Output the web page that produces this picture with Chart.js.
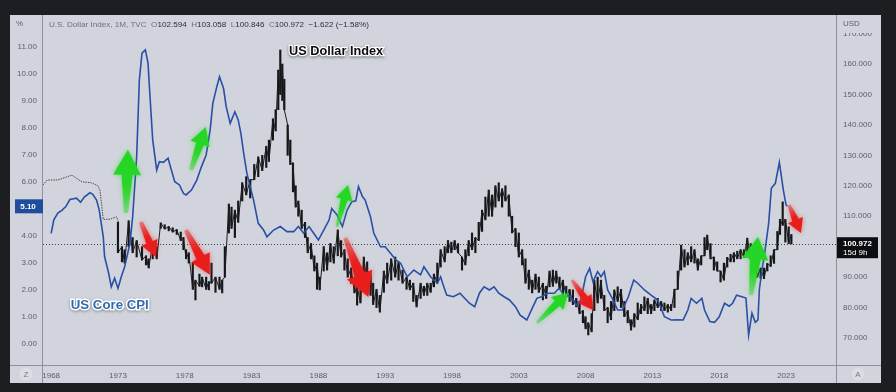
<!DOCTYPE html>
<html>
<head>
<meta charset="utf-8">
<script src="https://cdn.jsdelivr.net/npm/chart.js@4.4.1/dist/chart.umd.min.js"></script>
<style>
  html, body { margin: 0; padding: 0; background: #1d1e22; }
  canvas { display: block; }
</style>
</head>
<body>
<canvas id="chart" width="896" height="392"></canvas>
<script>
// US Core CPI, % (left axis)
const cpiYears = [
  1968.0, 1968.2, 1968.5, 1968.8, 1969.1, 1969.4, 1969.9, 1970.2, 1970.5, 1970.9,
  1971.1, 1971.4, 1971.6, 1971.9, 1972.0, 1972.3, 1972.5, 1972.75, 1973.0, 1973.25,
  1973.5, 1973.9, 1974.1, 1974.4, 1974.6, 1974.8, 1975.05, 1975.25, 1975.4, 1975.6,
  1975.9, 1976.1, 1976.4, 1976.75, 1977.0, 1977.25, 1977.6, 1977.9, 1978.1, 1978.5,
  1978.9, 1979.25, 1979.6, 1979.9, 1980.1, 1980.4, 1980.6, 1980.9, 1981.1, 1981.4,
  1981.75, 1982.0, 1982.2, 1982.4, 1982.65, 1983.15, 1983.5, 1983.9, 1984.15, 1984.65,
  1985.15, 1985.65, 1986.15, 1986.5, 1986.9, 1987.3, 1987.65, 1988.0, 1988.4, 1988.8,
  1989.0, 1989.4, 1989.8, 1990.15, 1990.5, 1990.8, 1991.0, 1991.3, 1991.5, 1991.9,
  1992.15, 1992.65, 1993.0, 1993.4, 1993.8, 1994.15, 1994.65, 1995.15, 1995.65, 1995.9,
  1996.4, 1996.9, 1997.15, 1997.3, 1997.6, 1998.1, 1998.6, 1999.3, 1999.7, 2000.05,
  2000.4, 2000.8, 2001.15, 2001.5, 2001.9, 2002.3, 2002.75, 2003.1, 2003.6, 2004.0,
  2004.35, 2004.7, 2005.15, 2005.65, 2006.0, 2006.4, 2006.9, 2007.3, 2007.65, 2008.0,
  2008.3, 2008.55, 2008.9, 2009.15, 2009.4, 2009.65, 2010.0, 2010.4, 2010.75, 2011.2,
  2011.6, 2011.9, 2012.4, 2012.9, 2013.4, 2013.9, 2014.4, 2014.9, 2015.3, 2015.65,
  2015.9, 2016.3, 2016.7, 2016.9, 2017.3, 2017.65, 2018.0, 2018.4, 2018.75, 2019.0,
  2019.3, 2019.7, 2020.0, 2020.1, 2020.2, 2020.45, 2020.7, 2020.9, 2021.0, 2021.2,
  2021.4, 2021.7, 2021.9, 2022.2, 2022.5, 2022.8, 2023.0, 2023.1
];
const cpiValues = [
  4.10, 4.60, 4.85, 4.95, 5.09, 5.35, 5.40, 5.25, 5.45, 5.60,
  5.55, 5.33, 4.96, 3.97, 3.23, 2.63, 2.12, 2.44, 2.06, 2.49,
  2.86, 3.73, 4.71, 6.94, 9.78, 10.77, 10.89, 10.40, 9.16, 7.56,
  6.44, 6.75, 6.73, 6.88, 6.44, 6.01, 5.89, 5.58, 5.52, 5.70,
  6.07, 6.57, 7.00, 7.93, 8.91, 9.53, 9.90, 9.47, 8.79, 8.17,
  8.60, 8.30, 7.80, 7.10, 6.32, 5.33, 4.47, 4.22, 3.97, 4.22,
  4.35, 4.16, 4.16, 4.35, 4.10, 4.35, 4.10, 3.85, 4.22, 4.59,
  5.02, 4.78, 4.35, 4.96, 5.27, 5.30, 5.83, 5.46, 5.33, 4.71,
  4.10, 3.60, 3.60, 3.36, 3.11, 2.99, 2.49, 2.74, 2.56, 2.86,
  2.49, 2.25, 2.49, 2.25, 1.81, 1.75, 1.88, 1.51, 1.38, 1.88,
  2.12, 2.00, 2.12, 1.88, 1.75, 1.63, 1.38, 1.07, 0.89, 1.32,
  1.69, 1.75, 1.88, 1.88, 2.06, 1.81, 1.75, 1.44, 1.63, 2.49,
  2.80, 2.31, 2.68, 2.49, 2.68, 2.00, 1.69, 1.26, 1.26, 1.75,
  2.37, 2.25, 2.00, 1.81, 1.63, 1.01, 0.89, 0.90, 0.89, 1.26,
  1.69, 1.51, 1.69, 1.26, 0.83, 0.80, 1.01, 1.51, 1.40, 1.51,
  1.81, 1.75, 1.70, 1.01, 0.33, 1.14, 0.80, 0.89, 2.00, 2.74,
  3.36, 4.47, 5.77, 5.95, 6.73, 5.70, 5.15, 5.10
];

// US Dollar Index before 1973 (thin line, right axis)
const dxyEarlyYears  = [1967.4, 1967.7, 1968.5, 1969.55, 1970.3, 1971.0, 1971.5, 1971.65, 1971.8, 1971.9, 1972.4, 1972.9, 1973.05];
const dxyEarlyValues = [120.3, 121.9, 121.9, 123.5, 121.3, 121.0, 120.0, 118.6, 113.0, 109.0, 109.0, 109.8, 108.0];

// US Dollar Index monthly candles, summarised as low/high ranges (right axis)
const dxyYears = [
  1973.0, 1973.3, 1973.5, 1973.8, 1974.1, 1974.4, 1974.8, 1975.1, 1975.3, 1975.6,
  1975.9, 1976.2, 1976.5, 1976.8, 1977.1, 1977.4, 1977.7, 1977.9, 1978.1, 1978.3,
  1978.6, 1978.8, 1979.1, 1979.3, 1979.6, 1979.8, 1980.0, 1980.3, 1980.6, 1980.8,
  1981.0, 1981.3, 1981.5, 1981.75, 1982.0, 1982.3, 1982.6, 1982.9, 1983.2, 1983.5,
  1983.8, 1984.1, 1984.3, 1984.6, 1984.8, 1985.0, 1985.15, 1985.3, 1985.45, 1985.7,
  1985.9, 1986.1, 1986.3, 1986.5, 1986.75, 1987.0, 1987.2, 1987.45, 1987.7, 1987.9,
  1988.1, 1988.4, 1988.65, 1988.9, 1989.15, 1989.45, 1989.7, 1989.95, 1990.2, 1990.45,
  1990.7, 1990.9, 1991.15, 1991.4, 1991.65, 1991.9, 1992.1, 1992.35, 1992.6, 1992.9,
  1993.15, 1993.45, 1993.75, 1994.0, 1994.3, 1994.6, 1994.85, 1995.1, 1995.35, 1995.65,
  1995.9, 1996.15, 1996.4, 1996.65, 1996.9, 1997.15, 1997.45, 1997.7, 1997.95, 1998.2,
  1998.45, 1998.75, 1999.0, 1999.25, 1999.5, 1999.75, 2000.0, 2000.25, 2000.5, 2000.75,
  2001.0, 2001.25, 2001.5, 2001.75, 2002.0, 2002.25, 2002.5, 2002.75, 2003.0, 2003.25,
  2003.5, 2003.75, 2004.0, 2004.25, 2004.5, 2004.8, 2005.05, 2005.3, 2005.55, 2005.8,
  2006.05, 2006.3, 2006.55, 2006.8, 2007.05, 2007.3, 2007.55, 2007.8, 2008.0, 2008.2,
  2008.45, 2008.65, 2008.9, 2009.15, 2009.4, 2009.65, 2009.9, 2010.15, 2010.4, 2010.65,
  2010.9, 2011.15, 2011.4, 2011.65, 2011.9, 2012.15, 2012.4, 2012.65, 2012.9, 2013.15,
  2013.4, 2013.65, 2013.9, 2014.15, 2014.4, 2014.65, 2014.9, 2015.15, 2015.4, 2015.65,
  2015.9, 2016.15, 2016.4, 2016.65, 2016.9, 2017.1, 2017.35, 2017.6, 2017.85, 2018.1,
  2018.35, 2018.6, 2018.85, 2019.1, 2019.35, 2019.6, 2019.85, 2020.1, 2020.35, 2020.6,
  2020.85, 2021.1, 2021.35, 2021.6, 2021.85, 2022.1, 2022.35, 2022.55, 2022.75, 2022.95,
  2023.2, 2023.4
];
const dxyLow = [
  98, 95, 94.6, 100, 98, 96.6, 95.6, 94, 93, 96,
  96, 106, 105.8, 105.2, 104.8, 104, 102, 99, 96, 94.6,
  86, 82.5, 87, 86.8, 86, 85.8, 88, 85, 86, 84.8,
  90, 104.5, 106, 103, 108, 115, 117, 116, 122, 123,
  125, 126, 128, 135, 138, 145, 150, 148, 145, 130,
  127, 118, 113, 110, 106, 103, 98, 96, 92, 86,
  85.8, 92, 92.3, 95, 94.6, 97, 96.6, 92.3, 90, 88,
  84.8, 80.8, 81.5, 89, 88, 84, 81, 80, 78.5, 85,
  88, 89, 90, 89, 88, 86, 85.8, 82, 80.2, 83,
  84, 84, 85, 86.8, 88, 93.3, 95, 98, 98, 99,
  98, 92.3, 94, 97, 99, 98, 102, 105, 108.8, 110,
  110, 113, 115, 113, 115, 110, 104.5, 100, 96.6, 94,
  88, 86, 84.8, 86, 85, 82.5, 83, 86.8, 87, 88,
  86, 84, 83.5, 82, 81, 80.2, 78, 75, 73, 71,
  72, 79, 81.5, 83, 79, 75, 76, 79, 82, 80,
  77, 75, 72.6, 73.6, 76, 78, 79, 78, 78, 79,
  80, 79, 79, 78.5, 79, 80, 86, 92.3, 93.3, 94,
  95, 94.6, 92.3, 94, 97, 99, 96, 92.3, 92, 88.4,
  89, 93.3, 95, 95, 96, 96, 96.5, 96.6, 96, 92,
  90, 89.5, 89.5, 92, 93.5, 94.5, 99, 104, 107, 101.5,
  101, 100.9
];
const dxyHigh = [
  108, 100, 99, 108.5, 103, 102, 100, 97, 96, 101,
  100, 107.8, 107.2, 106.6, 106.2, 105.6, 104.8, 103, 99, 98,
  94.6, 89, 91, 90, 90, 88.5, 94.6, 90, 90, 89,
  100, 114, 113, 112, 115, 121, 123, 122, 127, 129.5,
  130, 133, 135, 142, 145, 158, 164.6, 160, 155, 140,
  135, 127.5, 120, 115, 112, 108, 103, 101, 97, 94.6,
  90, 100, 98, 101, 100, 105.5, 102, 99, 96, 93,
  90, 87, 89, 96.6, 95, 91, 88, 86, 84, 92,
  94.6, 96, 96.6, 95, 92.3, 90, 89, 88, 84, 88,
  87, 88, 88, 91, 94.6, 99, 100, 102, 101.5, 102,
  101, 96.6, 99, 102, 104.5, 103, 108, 112, 116.3, 118.6,
  117, 120, 121, 119, 120, 117, 110, 106, 104.5, 99,
  96, 92.3, 89, 91, 90, 88, 87, 92, 92.3, 92,
  90, 89, 87, 86, 85.8, 83, 82, 79, 77, 75,
  78, 89, 90, 89, 84, 80, 82, 85.8, 86.8, 86,
  82, 79, 76, 78, 81.5, 81, 83.5, 83, 81, 82.5,
  83, 82, 81.5, 81, 81, 86, 92, 100.5, 99, 98,
  100, 99, 96, 97, 103, 103.8, 101, 96.6, 95, 92,
  94.6, 96.5, 97.5, 98, 98.5, 99, 99, 102.8, 101, 97,
  94.6, 93, 93, 94.5, 97, 99, 105, 109, 114.7, 109,
  106.5, 104
];

// axis ticks
const xTickYears = [1968, 1973, 1978, 1983, 1988, 1993, 1998, 2003, 2008, 2013, 2018, 2023];
const cpiTicks = [0, 1, 2, 3, 4, 5, 6, 7, 8, 9, 10, 11];
const usdTicks = [70, 80, 90, 100, 110, 120, 130, 140, 150, 160, 170];
const lastCpi = 5.10;
const lastUsd = 100.972;

// arrow annotations [fromYear, fromCpi, toYear, toCpi, headLen, headWidth, shaftHead, shaftTail]
const greenArrows = [
  [1973.60, 4.85, 1973.74, 7.19, 25, 28, 11, 4],
  [1978.46, 6.44, 1979.58, 8.04, 18, 20, 8, 4],
  [1989.39, 4.33, 1990.22, 5.89, 15, 17, 7, 3],
  [2004.36, 0.78, 2006.68, 1.89, 15, 18, 7, 3],
  [2020.38, 1.81, 2020.90, 3.96, 22, 26, 11, 4]
];
const redArrows = [
  [1974.71, 4.52, 1975.84, 3.22, 16, 17, 7, 4],
  [1978.08, 4.22, 1979.88, 2.56, 20, 21, 9, 4],
  [1990.01, 3.93, 1991.74, 1.74, 24, 27, 11, 4],
  [2006.98, 2.37, 2008.55, 1.26, 14, 16, 7, 3],
  [2023.22, 5.15, 2024.12, 4.11, 14, 16, 7, 3]
];

const FONT = '"Liberation Sans", Arial, sans-serif';
const TICK_COLOR = '#5b5e69';

function fitSize(ctx, text, weight, width) {
  ctx.font = weight + ' 20px ' + FONT;
  return 20 * width / ctx.measureText(text).width;
}

function drawArrow(ctx, chart, a, color) {
  const xs = chart.scales.x, ys = chart.scales.y;
  const x1 = xs.getPixelForValue(a[0]), y1 = ys.getPixelForValue(a[1]);
  const x2 = xs.getPixelForValue(a[2]), y2 = ys.getPixelForValue(a[3]);
  const len = Math.hypot(x2 - x1, y2 - y1);
  const ux = (x2 - x1) / len, uy = (y2 - y1) / len;
  const nx = -uy, ny = ux;
  const bx = x2 - ux * a[4], by = y2 - uy * a[4];
  const hw = a[5] / 2, sh = a[6] / 2, st = a[7] / 2;
  const grad = ctx.createLinearGradient(x1, y1, x2, y2);
  grad.addColorStop(0, color.replace('1)', '0.4)'));
  grad.addColorStop(0.45, color);
  grad.addColorStop(1, color);
  ctx.save();
  ctx.shadowColor = color.replace('1)', '0.6)');
  ctx.shadowBlur = 5;
  ctx.fillStyle = grad;
  ctx.beginPath();
  ctx.moveTo(x1 + nx * st, y1 + ny * st);
  ctx.lineTo(bx + nx * sh, by + ny * sh);
  ctx.lineTo(bx + nx * hw, by + ny * hw);
  ctx.lineTo(x2, y2);
  ctx.lineTo(bx - nx * hw, by - ny * hw);
  ctx.lineTo(bx - nx * sh, by - ny * sh);
  ctx.lineTo(x1 - nx * st, y1 - ny * st);
  ctx.closePath();
  ctx.fill();
  ctx.restore();
}

const tvFrame = {
  id: 'tvFrame',
  beforeDraw(chart) {
    const ctx = chart.ctx;
    ctx.save();
    ctx.fillStyle = '#1d1e22';
    ctx.fillRect(0, 0, chart.width, chart.height);
    ctx.fillStyle = '#d1d4dc';
    ctx.fillRect(10, 15, 871, 368);
    ctx.restore();
  },
  beforeDatasetsDraw(chart) {
    const ctx = chart.ctx, area = chart.chartArea;
    const py = Math.round(chart.scales.y2.getPixelForValue(lastUsd)) + 0.5;
    ctx.save();
    ctx.strokeStyle = '#3b3d44';
    ctx.lineWidth = 1;
    ctx.setLineDash([1, 2]);
    ctx.beginPath();
    ctx.moveTo(area.left, py);
    ctx.lineTo(area.right, py);
    ctx.stroke();
    ctx.restore();
  },
  afterDraw(chart) {
    const ctx = chart.ctx, area = chart.chartArea;
    const xs = chart.scales.x, ys = chart.scales.y, y2 = chart.scales.y2;
    ctx.save();

    // arrows
    greenArrows.forEach(a => drawArrow(ctx, chart, a, 'rgba(38, 214, 38, 1)'));
    redArrows.forEach(a => drawArrow(ctx, chart, a, 'rgba(232, 30, 28, 1)'));

    // axis separators
    ctx.strokeStyle = '#8e919b';
    ctx.lineWidth = 1;
    ctx.beginPath();
    ctx.moveTo(area.left - 0.5, 15); ctx.lineTo(area.left - 0.5, 383);
    ctx.moveTo(area.right + 0.5, 15); ctx.lineTo(area.right + 0.5, 383);
    ctx.moveTo(10, area.bottom + 0.5); ctx.lineTo(881, area.bottom + 0.5);
    ctx.stroke();

    // USD unit label over the clipped top tick
    ctx.fillStyle = '#d1d4dc';
    ctx.fillRect(area.right + 1, 15, 44, 18);
    ctx.font = '8px ' + FONT;
    ctx.fillStyle = TICK_COLOR;
    ctx.textBaseline = 'middle';
    ctx.textAlign = 'left';
    ctx.fillText('USD', 843, 24);
    ctx.fillText('%', 16, 24);

    // header legend
    const parts = [
      ['U.S. Dollar Index, 1M, TVC', '#6d707b'], ['  O', '#6d707b'], ['102.594', '#2c2f38'],
      ['  H', '#6d707b'], ['103.058', '#2c2f38'], ['  L', '#6d707b'], ['100.846', '#2c2f38'],
      ['  C', '#6d707b'], ['100.972', '#2c2f38'], ['  \u22121.622 (\u22121.58%)', '#2c2f38']
    ];
    const full = parts.map(p => p[0]).join('');
    const hs = fitSize(ctx, full, 'normal', 320);
    ctx.font = hs.toFixed(2) + 'px ' + FONT;
    let hx = 49;
    parts.forEach(p => {
      ctx.fillStyle = p[1];
      ctx.fillText(p[0], hx, 25);
      hx += ctx.measureText(p[0]).width;
    });

    // last value badges
    const cy = ys.getPixelForValue(lastCpi);
    ctx.fillStyle = '#1f4c9c';
    ctx.fillRect(15, cy - 7, 28, 14);
    ctx.fillStyle = '#ffffff';
    ctx.font = 'bold 8px ' + FONT;
    ctx.textAlign = 'center';
    ctx.fillText(lastCpi.toFixed(2), 28, cy + 0.5);

    const uy = y2.getPixelForValue(lastUsd);
    ctx.fillStyle = '#0c0d10';
    ctx.fillRect(area.right + 1, uy - 6.5, 41, 21);
    ctx.fillStyle = '#ffffff';
    ctx.textAlign = 'left';
    ctx.font = 'bold 8px ' + FONT;
    ctx.fillText(lastUsd.toFixed(3), 843, uy);
    ctx.font = '8px ' + FONT;
    ctx.fillText('15d 9h', 843, uy + 9.5);

    // corner buttons
    [[26, 'Z'], [858, 'A']].forEach(b => {
      ctx.beginPath();
      ctx.fillStyle = '#dcdee4';
      ctx.arc(b[0], 374, 6.5, 0, Math.PI * 2);
      ctx.fill();
      ctx.fillStyle = '#777a85';
      ctx.textAlign = 'center';
      ctx.font = '8px ' + FONT;
      ctx.fillText(b[1], b[0], 374.5);
    });

    // series captions
    const t1 = 'US Dollar Index';
    const s1 = fitSize(ctx, t1, 'bold', 94);
    const p1x = xs.getPixelForValue(1985.81), p1y = ys.getPixelForValue(10.85);
    ctx.font = 'bold ' + s1.toFixed(2) + 'px ' + FONT;
    ctx.textAlign = 'left';
    ctx.textBaseline = 'middle';
    ctx.shadowColor = 'rgba(0,0,0,0.45)';
    ctx.shadowBlur = 3;
    ctx.shadowOffsetY = 1;
    ctx.lineWidth = 2.5;
    ctx.strokeStyle = '#ffffff';
    ctx.strokeText(t1, p1x, p1y);
    ctx.shadowColor = 'transparent';
    ctx.fillStyle = '#0d0d0d';
    ctx.fillText(t1, p1x, p1y);

    const t2 = 'US Core CPI';
    const s2 = fitSize(ctx, t2, 'bold', 78);
    const p2x = xs.getPixelForValue(1969.47), p2y = ys.getPixelForValue(1.44);
    ctx.font = 'bold ' + s2.toFixed(2) + 'px ' + FONT;
    ctx.shadowColor = 'rgba(0,0,0,0.35)';
    ctx.shadowBlur = 3;
    ctx.shadowOffsetY = 1;
    ctx.lineWidth = 3;
    ctx.strokeStyle = '#ffffff';
    ctx.strokeText(t2, p2x, p2y);
    ctx.shadowColor = 'transparent';
    ctx.fillStyle = '#2d6ab2';
    ctx.fillText(t2, p2x, p2y);
    ctx.restore();
  }
};

const ctx = document.getElementById('chart').getContext('2d');
new Chart(ctx, {
  type: 'bar',
  data: {
    datasets: [
      {
        type: 'line',
        label: 'US Core CPI',
        data: cpiYears.map((x, i) => ({ x: x, y: cpiValues[i] })),
        yAxisID: 'y',
        borderColor: '#2a4fa6',
        borderWidth: 1.6,
        pointRadius: 0,
        tension: 0,
        order: 0
      },
      {
        type: 'line',
        label: 'DXY early',
        data: dxyEarlyYears.map((x, i) => ({ x: x, y: dxyEarlyValues[i] })),
        yAxisID: 'y2',
        borderColor: '#2a2a2a',
        borderWidth: 0.8,
        borderDash: [1.5, 1],
        pointRadius: 0,
        tension: 0,
        order: 1
      },
      {
        // candle bodies/wicks drawn as a zig-zag through each period's low and high
        type: 'line',
        label: 'US Dollar Index path',
        data: dxyYears.map((x, i) => ({ x: x, y: i % 2 ? dxyHigh[i] : dxyLow[i] })),
        yAxisID: 'y2',
        borderColor: '#1b1c1f',
        borderWidth: 1,
        pointRadius: 0,
        tension: 0,
        order: 2
      },
      {
        type: 'bar',
        label: 'US Dollar Index',
        data: dxyYears.map((x, i) => ({ x: x, y: [dxyLow[i], dxyHigh[i]] })),
        yAxisID: 'y2',
        backgroundColor: '#151618',
        barThickness: 1.5,
        order: 3
      }
    ]
  },
  options: {
    responsive: false,
    animation: false,
    layout: { padding: { left: 10, right: 15, top: 15, bottom: 9 } },
    plugins: { legend: { display: false }, tooltip: { enabled: false } },
    scales: {
      x: {
        type: 'linear',
        offset: false,
        min: 1967.39,
        max: 2026.74,
        grid: { display: false, drawTicks: false },
        border: { display: false },
        afterBuildTicks: s => { s.ticks = xTickYears.map(v => ({ value: v })); },
        afterFit: s => { s.height = 18; },
        ticks: {
          color: TICK_COLOR, font: { family: FONT, size: 8 }, padding: 6,
          maxRotation: 0, autoSkip: false, callback: v => String(v)
        }
      },
      y: {
        position: 'left',
        min: -0.778,
        max: 12.185,
        grid: { display: false, drawTicks: false },
        border: { display: false },
        afterBuildTicks: s => { s.ticks = cpiTicks.map(v => ({ value: v })); },
        afterFit: s => { s.width = 33; },
        ticks: { color: TICK_COLOR, font: { family: FONT, size: 8 }, padding: 6, callback: v => v.toFixed(2) }
      },
      y2: {
        position: 'right',
        min: 61.13,
        max: 176.1,
        grid: { display: false, drawTicks: false },
        border: { display: false },
        afterBuildTicks: s => { s.ticks = usdTicks.map(v => ({ value: v })); },
        afterFit: s => { s.width = 45; },
        ticks: { color: TICK_COLOR, font: { family: FONT, size: 8 }, padding: 7, callback: v => v.toFixed(3) }
      }
    }
  },
  plugins: [tvFrame]
});
</script>
</body>
</html>
